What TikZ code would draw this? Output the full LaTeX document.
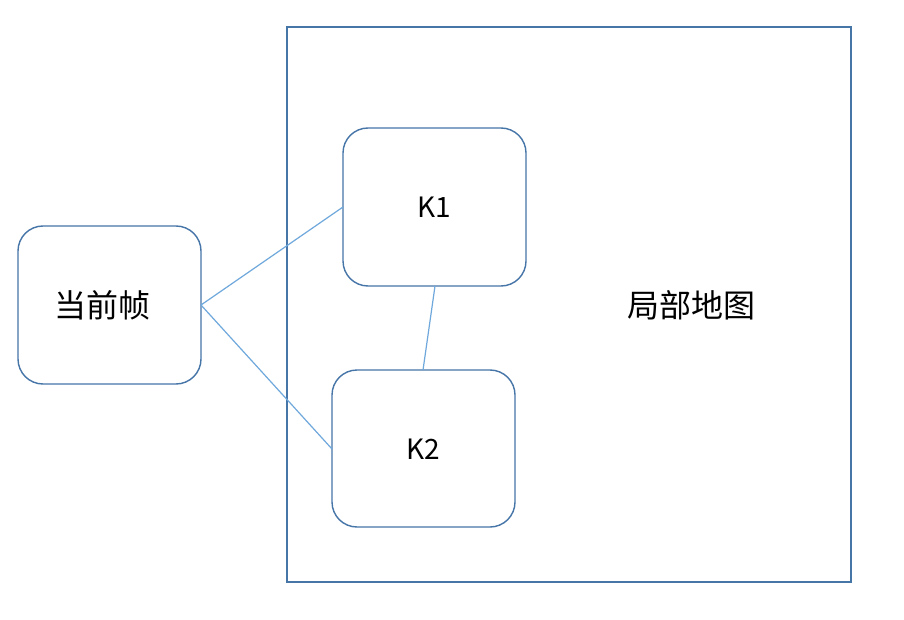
\documentclass[tikz,border=0pt]{standalone}
\usepackage{fontspec}
\setmainfont{Noto Sans CJK SC}
\begin{document}
\begin{tikzpicture}[x=1pt,y=-1pt,
  boxline/.style={draw=frameblue, line width=1.4pt},
  roundbox/.style={boxline, rounded corners=25pt},
  link/.style={draw=linkblue, line width=1.2pt},
  lbl/.style={font=\fontsize{32}{36}\selectfont},
  klbl/.style={font=\fontsize{28}{32}\selectfont}]
\definecolor{frameblue}{HTML}{4675A8}
\definecolor{linkblue}{HTML}{6FA8DC}
\useasboundingbox (0,0) rectangle (904,620);
\fill[white] (0,0) rectangle (904,620);
% local map frame
\draw[boxline] (287,27) rectangle (851,582);
\node[lbl] (map) at (691,305) {局部地图};
% current frame
\draw[roundbox] (18,226) rectangle (201,384);
\node[lbl] (cur) at (102,305) {当前帧};
\coordinate (curR) at (201,305);
% keyframes
\draw[roundbox] (343,128) rectangle (526,286);
\node[klbl] (k1) at (434,207) {K1};
\coordinate (k1L) at (343,207);
\coordinate (k1B) at (435,286);
\draw[roundbox] (332,370) rectangle (515,527);
\node[klbl] (k2) at (423,449) {K2};
\coordinate (k2L) at (332,449);
\coordinate (k2T) at (423,370);
% connections
\draw[link] (curR) -- (k1L);
\draw[link] (curR) -- (k2L);
\draw[link] (k1B) -- (k2T);
\end{tikzpicture}
\end{document}
